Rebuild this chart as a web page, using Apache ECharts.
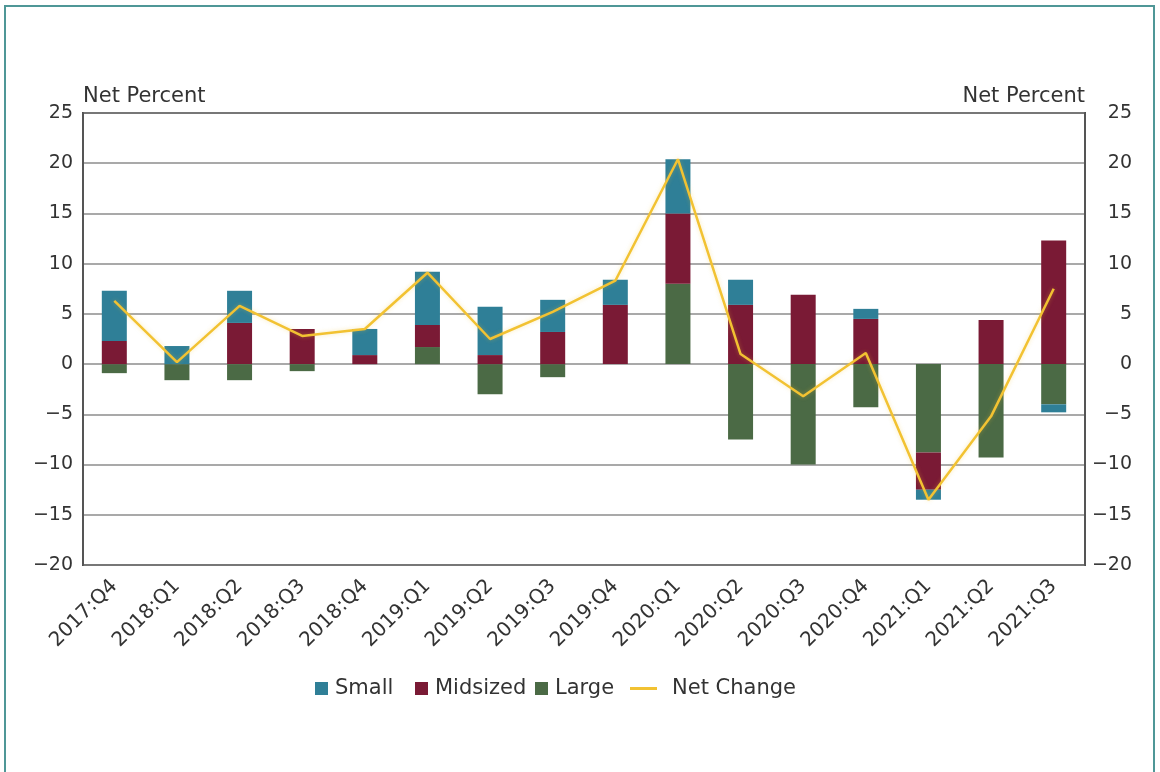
<!DOCTYPE html>
<html>
<head>
<meta charset="utf-8">
<script src="https://cdn.jsdelivr.net/npm/echarts@6/dist/echarts.min.js"></script>
<style>
  html, body { margin: 0; padding: 0; background: #fff; }
  #frame { position: absolute; left: 4px; top: 5px; width: 1151px; height: 800px;
           border: 2px solid #4f9797; border-bottom: none; box-sizing: border-box; }
  #chart { position: absolute; left: 0; top: 0; width: 1160px; height: 772px; }
</style>
</head>
<body>
<div id="frame"></div>
<div id="chart"></div>
<script>
const categories = ['2017:Q4','2018:Q1','2018:Q2','2018:Q3','2018:Q4','2019:Q1','2019:Q2','2019:Q3',
                    '2019:Q4','2020:Q1','2020:Q2','2020:Q3','2020:Q4','2021:Q1','2021:Q2','2021:Q3'];
const small    = [5.0, 1.8, 3.2, 0,   2.6, 5.3, 4.8, 3.2, 2.5, 5.4, 2.5, 0,    1.0, -1.0, 0,   -0.8];
const midsized = [2.3, 0,   4.1, 3.5, 0.9, 2.2, 0.9, 3.2, 5.9, 7.0, 5.9, 6.9,  4.5, -3.7, 4.4, 12.3];
const large    = [-0.9,-1.6,-1.6,-0.7,0,   1.7,-3.0,-1.3, 0,   8.0,-7.5,-10.0,-4.3, -8.8,-9.3, -4.0];
const netChange= [6.3, 0.2, 5.8, 2.8, 3.5, 9.1, 2.5, 5.2, 8.3, 20.4, 1.0,-3.2, 1.1,-13.5,-5.2, 7.5];
const yTicks = { min: -20, max: 25, interval: 5 };
const axisTitle = 'Net Percent';

const FONT = 'DejaVu Sans';
const TXT = '#333';
const fmt = v => String(v).replace('-', '\u2212');
const legTxt = { fontFamily: FONT, fontSize: 21, color: TXT, padding: [0, 0, 0, 2] };
const sqLegend = (name, left) => ({ data: [name], left: left, top: 673, itemWidth: 13, itemHeight: 13,
  icon: 'rect', textStyle: legTxt });

const chart = echarts.init(document.getElementById('chart'), null, { renderer: 'canvas' });
const barCommon = { type: 'bar', stack: 'total', barWidth: 25 };
chart.setOption({
  animation: false,
  grid: { left: 83, right: 75, top: 113, bottom: 207, show: true, borderColor: '#3a3a3a', borderWidth: 2, backgroundColor: 'transparent' },
  legend: [
    sqLegend('Small', 310),
    sqLegend('Midsized', 410),
    sqLegend('Large', 530),
    { data: ['Net Change'], left: 625, top: 673, itemWidth: 27, itemHeight: 3, icon: 'rect',
      textStyle: Object.assign({}, legTxt, { padding: [0, 0, 0, 10] }) }
  ],
  xAxis: {
    type: 'category', data: categories, boundaryGap: true,
    axisLine: { show: false }, axisTick: { show: false },
    axisLabel: { rotate: 45, interval: 0, margin: 18, fontFamily: FONT, fontSize: 20, color: TXT }
  },
  yAxis: [
    { type: 'value', position: 'left', min: yTicks.min, max: yTicks.max, interval: yTicks.interval,
      name: axisTitle, nameLocation: 'end', nameGap: 6,
      nameTextStyle: { fontFamily: FONT, fontSize: 21, color: TXT, align: 'left', verticalAlign: 'bottom' },
      axisLine: { show: true, lineStyle: { color: '#555', width: 2 } }, axisTick: { show: false },
      axisLabel: { fontFamily: FONT, fontSize: 19, color: TXT, margin: 10, formatter: fmt },
      splitLine: { show: true, lineStyle: { color: '#8c8c8c', width: 1.5 } } },
    { type: 'value', position: 'right', min: yTicks.min, max: yTicks.max, interval: yTicks.interval,
      name: axisTitle, nameLocation: 'end', nameGap: 6,
      nameTextStyle: { fontFamily: FONT, fontSize: 21, color: TXT, align: 'right', verticalAlign: 'bottom' },
      axisLine: { show: true, lineStyle: { color: '#555', width: 2 } }, axisTick: { show: false },
      axisLabel: { fontFamily: FONT, fontSize: 19, color: TXT, margin: 47, align: 'right', formatter: fmt },
      splitLine: { show: false } }
  ],
  series: [
    Object.assign({ name: 'Large', data: large, itemStyle: { color: '#4b6a45' } }, barCommon),
    Object.assign({ name: 'Midsized', data: midsized, itemStyle: { color: '#7a1a35' } }, barCommon),
    Object.assign({ name: 'Small', data: small, itemStyle: { color: '#2f7f97' } }, barCommon),
    { name: 'Net Change', type: 'line', data: netChange, showSymbol: false, symbol: 'none', z: 5,
      lineStyle: { color: '#f2c232', width: 2.5, shadowColor: 'rgba(242,194,50,0.35)', shadowBlur: 4 },
      itemStyle: { color: '#f2c232' } }
  ]
});
</script>
</body>
</html>
